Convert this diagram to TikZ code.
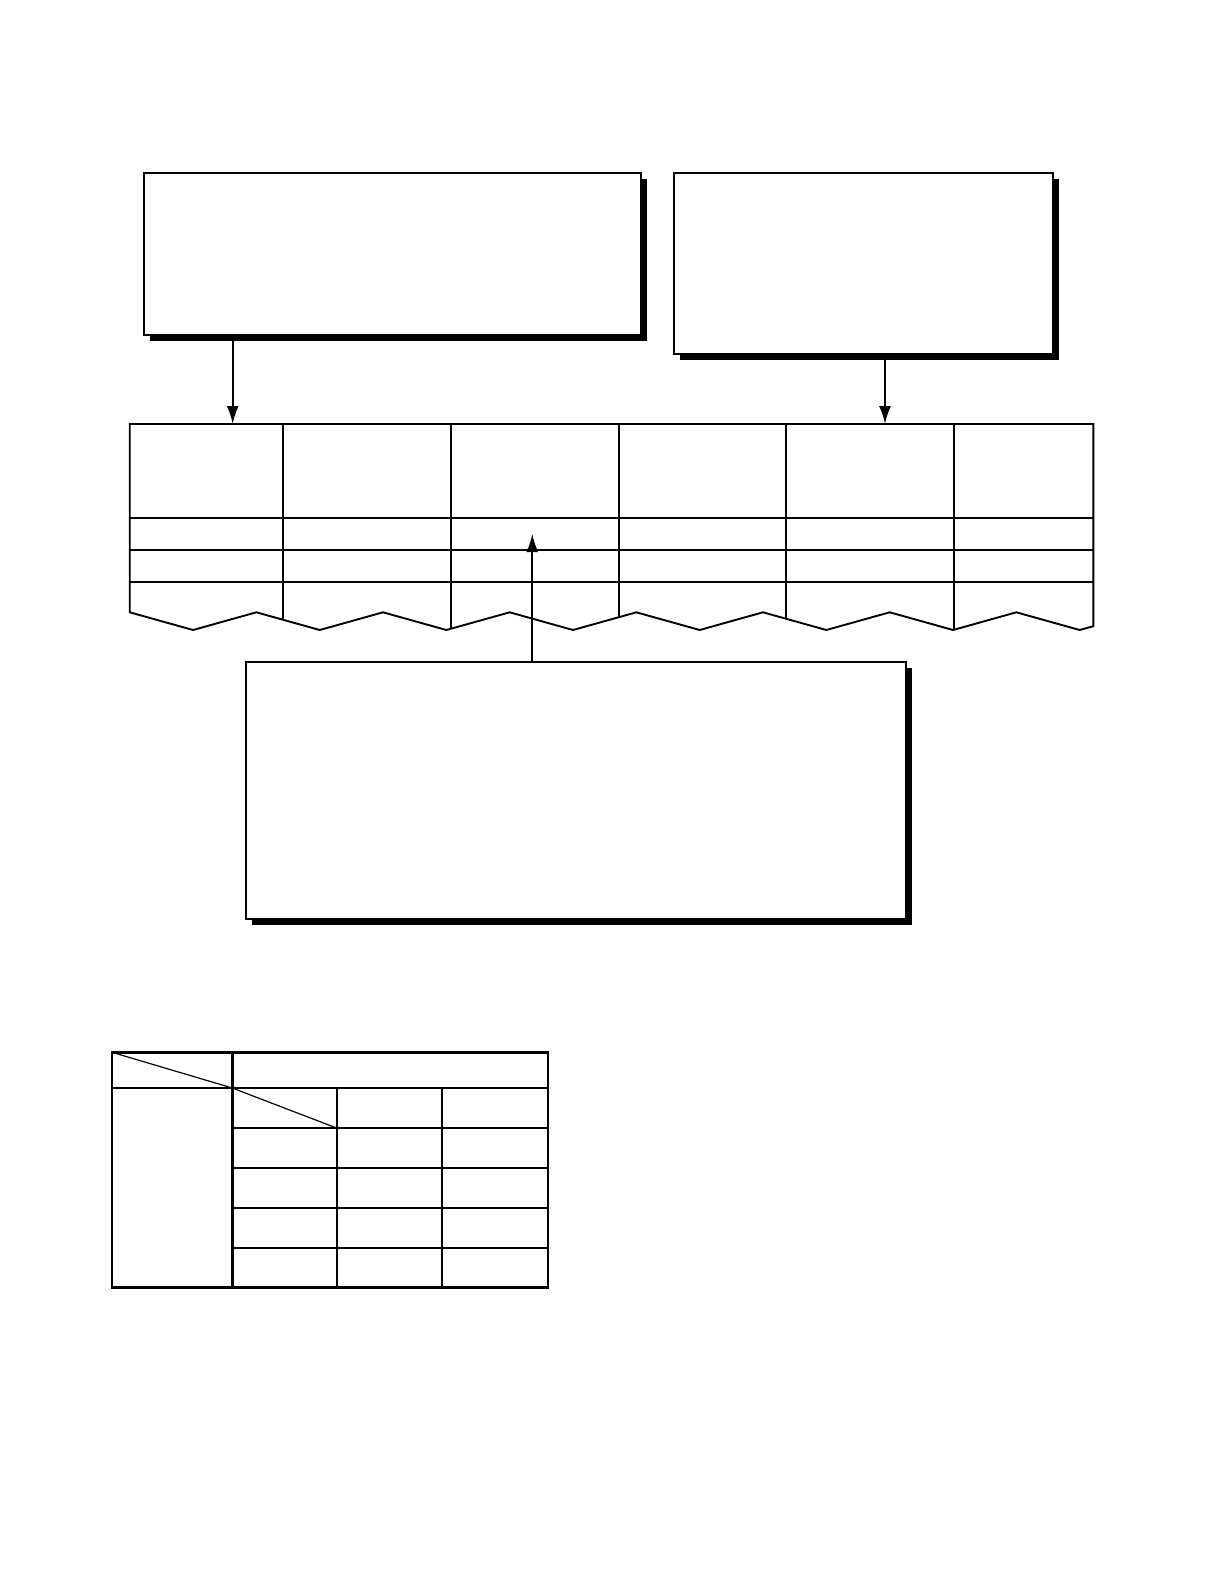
\documentclass[tikz,border=0pt]{standalone}
\usetikzlibrary{shadows,arrows.meta}
\tikzstyle{panel}=[rectangle, draw, line width=1pt, fill=white, inner sep=0pt, outer sep=0pt, drop shadow={shadow xshift=3pt, shadow yshift=-3pt, opacity=1, fill=black}]
\tikzstyle{edge}=[line width=1pt, -{Latex[length=9pt,width=6pt]}]
\tikzstyle{grid}=[line width=0.95pt]
\tikzstyle{frame}=[line width=1.2pt]
\tikzstyle{slash}=[line width=0.6pt]
\begin{document}
\begin{tikzpicture}[x=0.5pt, y=-0.5pt]
	\useasboundingbox (0,0) rectangle (1224,1584);
	
	%The upper table, torn at the bottom
	\begin{scope}
		\clip (129.7,424) -- (129.7,612.3)
			\foreach \i in {1,...,15} { -- ({129.7+\i*63.33},{ifthenelse(isodd(\i),630,612.3)}) }
			-- (1093.3,626.2) -- (1093.3,424) -- cycle;
		\foreach \c in {282.7,451,619,785.7,954}
			\draw[grid] (\c,424) -- (\c,640);
	\end{scope}
	\foreach \r in {518,550,582}
		\draw[grid] (129.7,\r) -- (1093.3,\r);
	\draw[grid, line join=miter] (129.7,424) -- (129.7,612.3)
		\foreach \i in {1,...,15} { -- ({129.7+\i*63.33},{ifthenelse(isodd(\i),630,612.3)}) }
		-- (1093.3,626.2) -- (1093.3,424) -- cycle;
	
	%The boxes
	\node[panel, minimum width=248.5pt, minimum height=81.3pt] (boxA) at (392.8,254) {};
	\node[panel, minimum width=189.8pt, minimum height=90.8pt] (boxB) at (863.5,263.5) {};
	\node[panel, minimum width=330.2pt, minimum height=128.5pt] (boxC) at (575.8,790.5) {};
	
	%The arrows
	\coordinate (inA) at (232.7,424);
	\coordinate (inB) at (885,424);
	\coordinate (outC) at (532.3,534);
	\draw[edge] (boxA.south -| inA) -- (inA);
	\draw[edge] (boxB.south -| inB) -- (inB);
	\draw[edge] (boxC.north -| outC) -- (outC);
	
	%The lower table
	\foreach \r in {1128.3,1168.3,1208.3,1248.3}
		\draw[grid] (232.3,\r) -- (547.7,\r);
	\foreach \c in {337.3,442.3}
		\draw[grid] (\c,1088) -- (\c,1287.3);
	\draw[frame] (112,1052.3) rectangle (547.7,1287.3);
	\draw[frame] (112,1088) -- (547.7,1088);
	\draw[frame] (232.3,1052.3) -- (232.3,1287.3);
	\draw[slash] (112,1052.3) -- (232.3,1088);
	\draw[slash] (232.3,1088) -- (337.3,1128.3);
\end{tikzpicture}
\end{document}
